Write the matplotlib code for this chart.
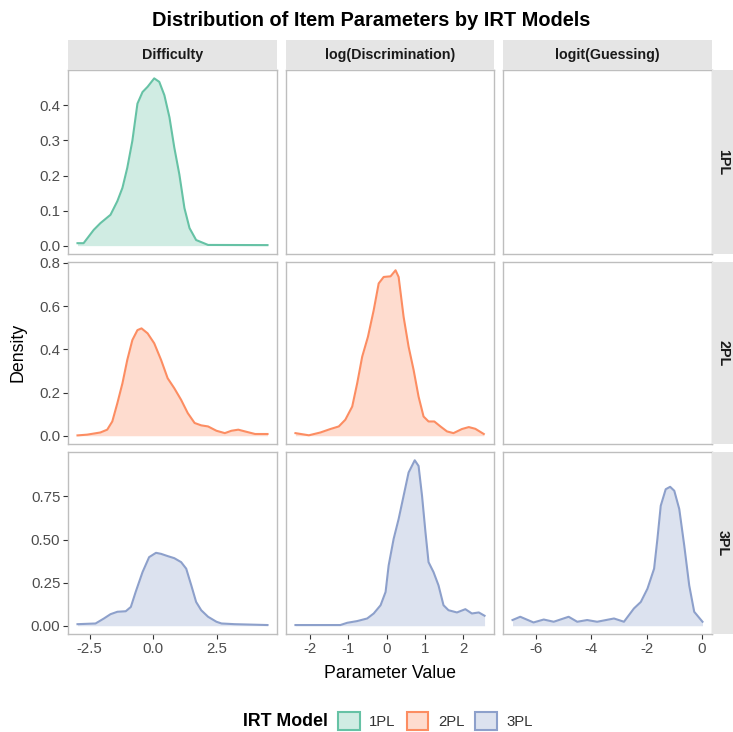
import matplotlib
matplotlib.use("Agg")
import matplotlib.pyplot as plt
from matplotlib.patches import Rectangle, Patch

plt.rcParams['font.family'] = ['Liberation Sans', 'DejaVu Sans']

# ---------------- data ----------------
models = ["1PL", "2PL", "3PL"]
params = ["Difficulty", "log(Discrimination)", "logit(Guessing)"]
colors = {"1PL": "#66C2A5", "2PL": "#FC8D62", "3PL": "#8DA0CB"}

diff_1pl_x = [-2.98, -2.74, -2.34, -2.08, -1.68, -1.41, -1.21, -1.02, -0.82, -0.62, -0.42, -0.22,
              0.04, 0.24, 0.44, 0.64, 0.83, 1.03, 1.23, 1.43, 1.69, 2.16, 4.5]
diff_1pl_y = [0.007, 0.007, 0.045, 0.064, 0.088, 0.127, 0.165, 0.222, 0.299, 0.405, 0.438, 0.453,
              0.477, 0.467, 0.429, 0.366, 0.28, 0.203, 0.107, 0.05, 0.016, 0.002, 0.0015]

diff_2pl_x = [-2.98, -2.6, -2.08, -1.81, -1.61, -1.41, -1.21, -1.02, -0.82, -0.62, -0.46, -0.22,
              0.04, 0.31, 0.57, 0.83, 1.1, 1.36, 1.63, 1.89, 2.16, 2.49, 2.82, 3.08, 3.35, 3.61,
              4.01, 4.5]
diff_2pl_y = [0.0015, 0.005, 0.015, 0.028, 0.066, 0.151, 0.243, 0.351, 0.443, 0.489, 0.497, 0.474,
              0.428, 0.351, 0.266, 0.22, 0.166, 0.105, 0.059, 0.048, 0.043, 0.023, 0.012, 0.023,
              0.028, 0.02, 0.008, 0.008]

diff_3pl_x = [-2.98, -2.27, -1.94, -1.68, -1.41, -1.08, -0.88, -0.69, -0.42, -0.16, 0.11, 0.31,
              0.57, 0.83, 1.1, 1.3, 1.5, 1.69, 1.89, 2.16, 2.49, 2.69, 3.21, 4.5]
diff_3pl_y = [0.009, 0.013, 0.042, 0.067, 0.081, 0.084, 0.109, 0.196, 0.311, 0.398, 0.423, 0.417,
              0.404, 0.392, 0.369, 0.331, 0.234, 0.138, 0.09, 0.052, 0.023, 0.013, 0.009, 0.004]

disc_2pl_x = [-2.38, -2.03, -1.73, -1.47, -1.25, -1.08, -0.9, -0.77, -0.64, -0.49, -0.34, -0.21,
              -0.08, 0.1, 0.23, 0.31, 0.44, 0.57, 0.7, 0.83, 0.96, 1.09, 1.24, 1.4, 1.57, 1.74,
              1.96, 2.14, 2.31, 2.53]
disc_2pl_y = [0.012, 0.002, 0.015, 0.031, 0.043, 0.074, 0.135, 0.243, 0.366, 0.458, 0.581, 0.705,
              0.735, 0.738, 0.766, 0.735, 0.55, 0.412, 0.305, 0.181, 0.089, 0.066, 0.066, 0.043,
              0.02, 0.012, 0.031, 0.04, 0.032, 0.008]

disc_3pl_x = [-2.38, -1.21, -1.03, -0.77, -0.51, -0.34, -0.16, -0.03, 0.05, 0.18, 0.31, 0.44,
              0.57, 0.73, 0.83, 0.92, 1.01, 1.09, 1.22, 1.35, 1.48, 1.61, 1.83, 2.05, 2.22, 2.4,
              2.55]
disc_3pl_y = [0.004, 0.004, 0.017, 0.027, 0.042, 0.071, 0.119, 0.196, 0.35, 0.504, 0.619, 0.754,
              0.889, 0.96, 0.927, 0.754, 0.542, 0.369, 0.311, 0.234, 0.119, 0.09, 0.077, 0.096,
              0.071, 0.077, 0.058]

guess_3pl_x = [-6.85, -6.57, -6.09, -5.72, -5.36, -4.82, -4.51, -4.15, -3.79, -3.18, -2.82, -2.46,
               -2.21, -1.97, -1.73, -1.61, -1.49, -1.31, -1.15, -1.0, -0.82, -0.64, -0.46, -0.28,
               0.02]
guess_3pl_y = [0.033, 0.052, 0.019, 0.036, 0.023, 0.052, 0.023, 0.033, 0.023, 0.042, 0.023, 0.1,
               0.138, 0.215, 0.331, 0.504, 0.696, 0.792, 0.806, 0.783, 0.677, 0.465, 0.234, 0.081,
               0.023]

curves = {
    ("1PL", "Difficulty"): (diff_1pl_x, diff_1pl_y),
    ("2PL", "Difficulty"): (diff_2pl_x, diff_2pl_y),
    ("3PL", "Difficulty"): (diff_3pl_x, diff_3pl_y),
    ("2PL", "log(Discrimination)"): (disc_2pl_x, disc_2pl_y),
    ("3PL", "log(Discrimination)"): (disc_3pl_x, disc_3pl_y),
    ("3PL", "logit(Guessing)"): (guess_3pl_x, guess_3pl_y),
}

xticks = {"Difficulty": [-2.5, 0.0, 2.5],
          "log(Discrimination)": [-2, -1, 0, 1, 2],
          "logit(Guessing)": [-6, -4, -2, 0]}
xticklabels = {"Difficulty": ["-2.5", "0.0", "2.5"],
               "log(Discrimination)": ["-2", "-1", "0", "1", "2"],
               "logit(Guessing)": ["-6", "-4", "-2", "0"]}
yticks = {"1PL": [0.0, 0.1, 0.2, 0.3, 0.4],
          "2PL": [0.0, 0.2, 0.4, 0.6, 0.8],
          "3PL": [0.0, 0.25, 0.5, 0.75]}
yticklabels = {"1PL": ["0.0", "0.1", "0.2", "0.3", "0.4"],
               "2PL": ["0.0", "0.2", "0.4", "0.6", "0.8"],
               "3PL": ["0.00", "0.25", "0.50", "0.75"]}

# ---------------- layout ----------------
W, H = 733, 732
fig = plt.figure(figsize=(W / 100, H / 100), dpi=100)

col_px = [(68, 277), (286, 494), (503, 712)]
row_px = [(70, 254), (262, 444), (452, 634)]
strip_top = (40, 70)
strip_right = (712, 742)

def frac(x0, x1, y0, y1):
    return [x0 / W, 1 - y1 / H, (x1 - x0) / W, (y1 - y0) / H]

border = "#BEBEBE"
strip_bg = "#E5E5E5"
tick_col = "#4D4D4D"

# shared scales: x per column, y per row (ggplot-like 5% expansion)
xlims = {}
for p in params:
    xs = [v for (m, pp), (cx, cy) in curves.items() if pp == p for v in cx]
    lo, hi = min(xs), max(xs)
    d = (hi - lo) * 0.05
    xlims[p] = (lo - d, hi + d)
ylims = {}
for m in models:
    ys = [v for (mm, pp), (cx, cy) in curves.items() if mm == m for v in cy] + [0]
    lo, hi = min(ys), max(ys)
    d = (hi - lo) * 0.05
    ylims[m] = (lo - d, hi + d)

for ri, m in enumerate(models):
    for ci, p in enumerate(params):
        x0, x1 = col_px[ci]
        y0, y1 = row_px[ri]
        ax = fig.add_axes(frac(x0, x1, y0, y1))
        ax.set_xlim(*xlims[p])
        ax.set_ylim(*ylims[m])
        for s in ax.spines.values():
            s.set_color(border)
            s.set_linewidth(1.0)
        if (m, p) in curves:
            cx, cy = curves[(m, p)]
            ax.fill_between(cx, 0, cy, color=colors[m], alpha=0.3, linewidth=0)
            ax.plot(cx, cy, color=colors[m], lw=1.5, solid_joinstyle="round")
        ax.tick_params(axis='both', colors="#333333", labelcolor=tick_col,
                       labelsize=10.8, length=3.5, width=0.8, pad=2)
        if ci == 0:
            ax.set_yticks(yticks[m])
            ax.set_yticklabels(yticklabels[m])
        else:
            ax.set_yticks([])
        if ri == 2:
            ax.set_xticks(xticks[p])
            ax.set_xticklabels(xticklabels[p])
        else:
            ax.set_xticks([])
        ax.set_facecolor("white")

# top strips
for ci, p in enumerate(params):
    x0, x1 = col_px[ci]
    fig.patches.append(Rectangle((x0 / W, 1 - strip_top[1] / H), (x1 - x0) / W,
                                 (strip_top[1] - strip_top[0]) / H,
                                 transform=fig.transFigure, facecolor=strip_bg,
                                 edgecolor="none"))
    fig.text((x0 + x1) / 2 / W, 1 - (strip_top[0] + strip_top[1]) / 2 / H, p,
             ha="center", va="center", fontsize=10.3, fontweight="bold", color="#1A1A1A")

# right strips
for ri, m in enumerate(models):
    y0, y1 = row_px[ri]
    fig.patches.append(Rectangle((strip_right[0] / W, 1 - y1 / H),
                                 (strip_right[1] - strip_right[0]) / W, (y1 - y0) / H,
                                 transform=fig.transFigure, facecolor=strip_bg,
                                 edgecolor="none"))
    fig.text((strip_right[0] + 11) / W, 1 - (y0 + y1) / 2 / H, m, rotation=-90,
             ha="center", va="center", fontsize=10.3, fontweight="bold", color="#1A1A1A")

# titles
fig.text(371 / W, 1 - 21 / H, "Distribution of Item Parameters by IRT Models",
         ha="center", va="center", fontsize=14.4, fontweight="bold", color="black")
fig.text(390 / W, 1 - 673 / H, "Parameter Value", ha="center", va="center",
         fontsize=12.8, color="black")
fig.text(18 / W, 1 - 352 / H, "Density", ha="center", va="center", rotation=90,
         fontsize=12.8, color="black")

# legend
fig.text(243 / W, 1 - 721 / H, "IRT Model", ha="left", va="center",
         fontsize=12.8, fontweight="bold", color="black")
handles = [Patch(facecolor=matplotlib.colors.to_rgba(colors[m], 0.3),
                 edgecolor=colors[m], linewidth=1.5, label=m) for m in models]
leg = fig.legend(handles=handles, loc="center left",
                 bbox_to_anchor=(338 / W, 1 - 721 / H), ncol=3, frameon=False,
                 fontsize=10.7, handlelength=1.45, handleheight=1.45,
                 handletextpad=0.65, columnspacing=0.75, borderaxespad=0,
                 borderpad=0)
for t in leg.get_texts():
    t.set_color("#333333")

fig.savefig("out.png", dpi=100)
